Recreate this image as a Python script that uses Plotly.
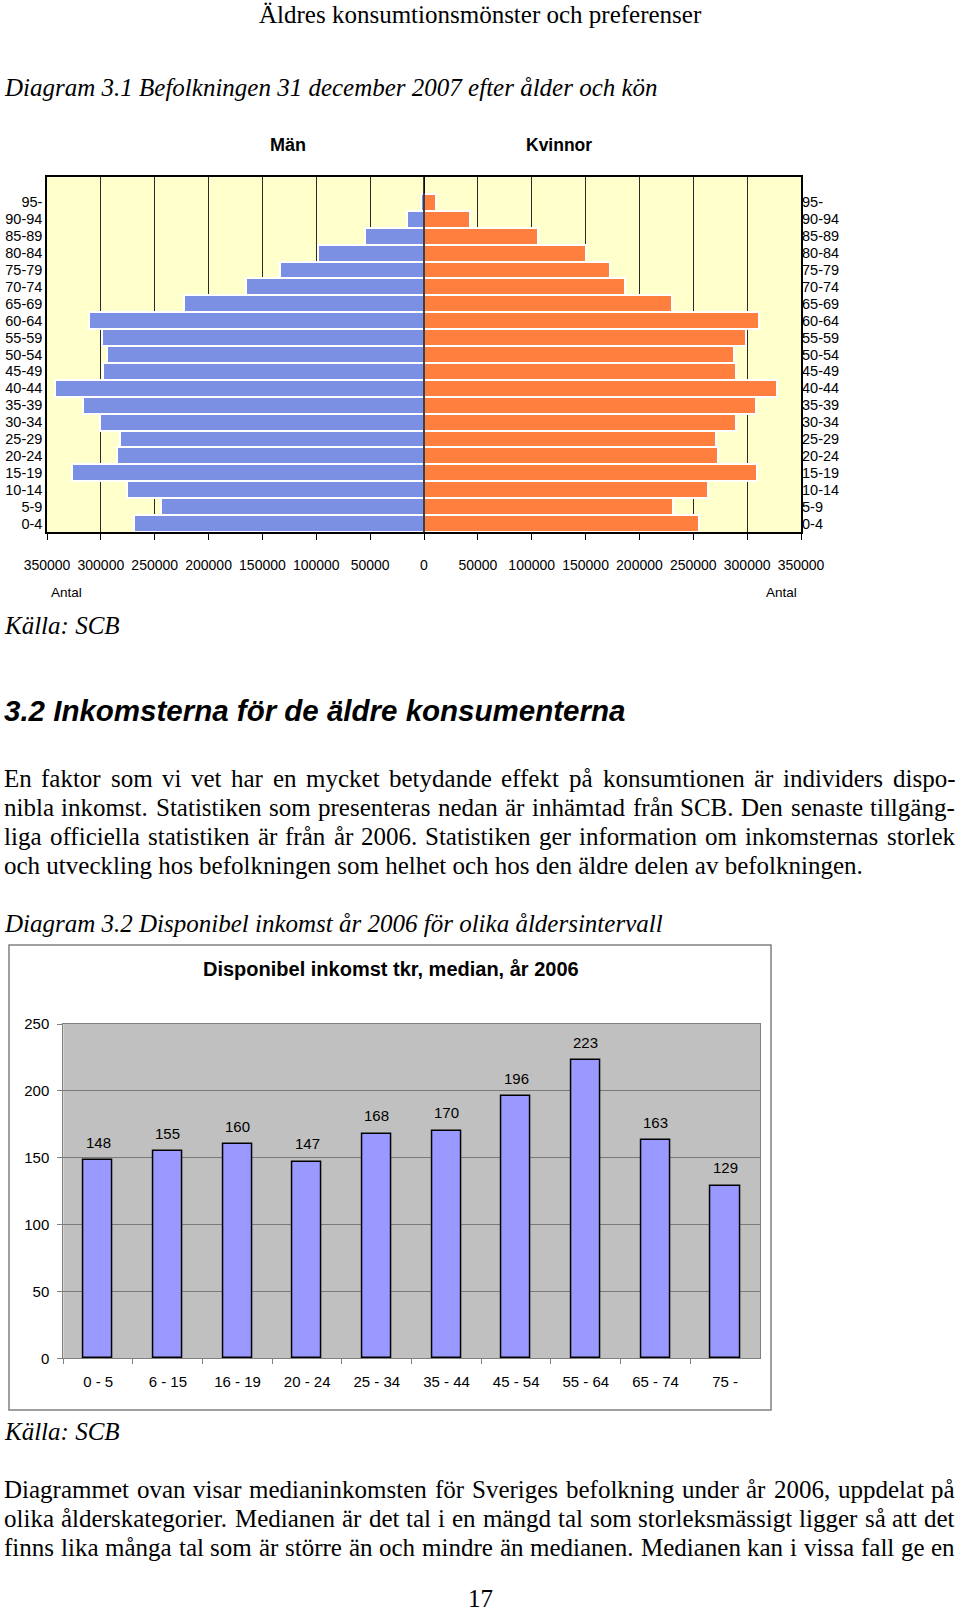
import plotly.graph_objects as go

W, H = 960, 1613

# ---------------- data ----------------
age_groups = ["0-4", "5-9", "10-14", "15-19", "20-24", "25-29", "30-34", "35-39",
              "40-44", "45-49", "50-54", "55-59", "60-64", "65-69", "70-74", "75-79",
              "80-84", "85-89", "90-94", "95-"]
men = [269000, 244000, 276000, 327000, 285000, 282000, 301000, 317000,
       343000, 298000, 294000, 299000, 311000, 223000, 165000, 134000,
       98000, 55000, 15500, 2500]
women = [255000, 231000, 264000, 309000, 273000, 271000, 290000, 308000,
         328000, 290000, 288000, 299000, 311000, 230000, 186500, 173000,
         150000, 106000, 43000, 11000]
pyr_tick_vals = [-350000, -300000, -250000, -200000, -150000, -100000, -50000, 0,
                 50000, 100000, 150000, 200000, 250000, 300000, 350000]
pyr_tick_text = ["350000", "300000", "250000", "200000", "150000", "100000", "50000", "0",
                 "50000", "100000", "150000", "200000", "250000", "300000", "350000"]

income_groups = ["0 - 5", "6 - 15", "16 - 19", "20 - 24", "25 - 34",
                 "35 - 44", "45 - 54", "55 - 64", "65 - 74", "75 -"]
income_values = [148, 155, 160, 147, 168, 170, 196, 223, 163, 129]

# ---------------- styles ----------------
BLUE = "#7B8FE3"
ORANGE = "#FF7F3F"
YELLOW = "#FFFFCC"
GRAY_BG = "#C0C0C0"
BAR2 = "#9999FF"
SERIF = "Liberation Serif, Times New Roman, serif"
SANS = "Liberation Sans, Arial, sans-serif"


def px(x):
    return x / W


def py(y):
    return 1 - y / H


fig = go.Figure()

# Pyramid
fig.add_trace(go.Bar(y=age_groups, x=[-v for v in men], orientation="h",
                     marker=dict(color=BLUE, line=dict(color="white", width=2)),
                     xaxis="x", yaxis="y", showlegend=False, hoverinfo="skip"))
fig.add_trace(go.Bar(y=age_groups, x=women, orientation="h",
                     marker=dict(color=ORANGE, line=dict(color="white", width=2)),
                     xaxis="x", yaxis="y2", showlegend=False, hoverinfo="skip"))
# Income bars
fig.add_trace(go.Bar(x=income_groups, y=income_values, width=0.42,
                     marker=dict(color=BAR2, line=dict(color="black", width=1.5)),
                     xaxis="x2", yaxis="y3", showlegend=False, hoverinfo="skip"))

PYR_L, PYR_R, PYR_T, PYR_B = 47, 801, 177, 532
C2_L, C2_R, C2_T, C2_B = 63.3, 760, 1024, 1358.3

pyr_font = dict(family=SANS, size=14.5, color="black")

fig.update_layout(
    width=W, height=H, autosize=False,
    margin=dict(l=0, r=0, t=0, b=0, pad=0),
    paper_bgcolor="white", plot_bgcolor="rgba(0,0,0,0)",
    bargap=0, barmode="overlay",
    xaxis=dict(domain=[px(PYR_L), px(PYR_R)], anchor="y", range=[-350000, 350000],
               tickmode="array", tickvals=pyr_tick_vals, ticktext=pyr_tick_text,
               tickangle=0, automargin=False,
               ticks="outside", ticklen=6, tickcolor="black", tickwidth=1,
               showgrid=True, gridcolor="#2b2b2b", gridwidth=1, zeroline=False,
               showline=True, linecolor="black", linewidth=1.5, mirror=True,
               tickfont=dict(family=SANS, size=14, color="black"),
               ticklabelstandoff=13),
    yaxis=dict(domain=[py(PYR_B), py(PYR_T)], anchor="x", type="category",
               categoryorder="array", categoryarray=age_groups, range=[-0.5, 20.5],
               tickmode="array", tickvals=age_groups, ticktext=age_groups,
               automargin=False,
               showgrid=False, zeroline=False, showline=True, linecolor="black",
               linewidth=1.5, mirror=True, ticks="", tickfont=pyr_font),
    yaxis2=dict(overlaying="y", side="right", anchor="x", type="category",
                categoryorder="array", categoryarray=age_groups, range=[-0.5, 20.5],
                tickmode="array", tickvals=age_groups, ticktext=age_groups,
                automargin=False,
                showgrid=False, zeroline=False, showline=False, ticks="",
                tickfont=pyr_font),
    xaxis2=dict(domain=[px(C2_L), px(C2_R)], anchor="y3", type="category",
                automargin=False, tickangle=0,
                showline=True, linecolor="#808080", linewidth=1, mirror=True,
                ticks="outside", tickson="boundaries", ticklen=5, tickcolor="#808080",
                showgrid=False, tickfont=dict(family=SANS, size=15, color="black"),
                ticklabelstandoff=10),
    yaxis3=dict(domain=[py(C2_B), py(C2_T)], anchor="x2", range=[0, 250],
                automargin=False,
                tickmode="linear", tick0=0, dtick=50, showgrid=True,
                gridcolor="#7a7a7a", gridwidth=1, zeroline=False,
                showline=True, linecolor="#808080", linewidth=1, mirror=True,
                ticks="outside", ticklen=5, tickcolor="#808080",
                tickfont=dict(family=SANS, size=15, color="black"),
                ticklabelstandoff=5),
)

shapes = [
    dict(type="rect", xref="paper", yref="paper", x0=px(PYR_L), x1=px(PYR_R),
         y0=py(PYR_B), y1=py(PYR_T), fillcolor=YELLOW, line=dict(width=0), layer="below"),
    dict(type="rect", xref="paper", yref="paper", x0=px(C2_L), x1=px(C2_R),
         y0=py(C2_B), y1=py(C2_T), fillcolor=GRAY_BG, line=dict(width=0), layer="below"),
    dict(type="line", xref="x", yref="paper", x0=0, x1=0, y0=py(PYR_B), y1=py(PYR_T),
         line=dict(color="black", width=1.5), layer="above"),
    dict(type="rect", xref="paper", yref="paper", x0=px(9), x1=px(771),
         y0=py(1410), y1=py(945), line=dict(color="#808080", width=1.5),
         fillcolor="rgba(0,0,0,0)", layer="below"),
]
fig.update_layout(shapes=shapes)

annotations = []


def text(t, x, y, size, family, xanchor="left", yanchor="middle", weight="normal",
         style="normal", color="black"):
    annotations.append(dict(text=t, x=px(x), y=py(y), xref="paper", yref="paper",
                            xanchor=xanchor, yanchor=yanchor, showarrow=False,
                            borderpad=0, borderwidth=0,
                            font=dict(family=family, size=size, color=color,
                                      weight=weight, style=style)))


# Times-Roman widths (per 1000 em)
TW = {" ": 250, ",": 250, ".": 250, "-": 333, ":": 278, ";": 278, "(": 333, ")": 333,
      "A": 722, "B": 667, "C": 667, "D": 722, "E": 611, "F": 556, "G": 722, "H": 722,
      "I": 333, "J": 389, "K": 722, "L": 611, "M": 889, "N": 722, "O": 722, "P": 556,
      "Q": 722, "R": 667, "S": 556, "T": 611, "U": 722, "V": 722, "W": 944, "X": 722,
      "Y": 722, "Z": 611, "a": 444, "b": 500, "c": 444, "d": 500, "e": 444, "f": 333,
      "g": 500, "h": 500, "i": 278, "j": 278, "k": 500, "l": 278, "m": 778, "n": 500,
      "o": 500, "p": 500, "q": 500, "r": 333, "s": 389, "t": 278, "u": 500, "v": 500,
      "w": 722, "x": 500, "y": 500, "z": 444, "å": 444, "ä": 444, "ö": 500,
      "Å": 722, "Ä": 722, "Ö": 722}
for d in "0123456789":
    TW[d] = 500


def tw(s, size):
    return sum(TW.get(c, 500) for c in s) / 1000.0 * size


def justified(line, y, size=25, x0=4, x1=955):
    words = line.split(" ")
    widths = [tw(w, size) for w in words]
    gap = (x1 - x0 - sum(widths)) / (len(words) - 1)
    x = x0
    for w, wd in zip(words, widths):
        text(w, x, y, size, SERIF)
        x += wd + gap


# Page header
text("Äldres konsumtionsmönster och preferenser", 480, 15, 25, SERIF, xanchor="center")
text("Diagram 3.1 Befolkningen 31 december 2007 efter ålder och kön", 4, 88, 25, SERIF,
     style="italic")
# Pyramid labels
text("Män", 288, 145, 18, SANS, xanchor="center", weight="bold")
text("Kvinnor", 559, 145, 17.5, SANS, xanchor="center", weight="bold")
text("Antal", 66, 593, 13.5, SANS, xanchor="center")
text("Antal", 781, 593, 13.5, SANS, xanchor="center")
text("Källa: SCB", 4, 625, 25, SERIF, style="italic")

# Section heading + paragraph
text("3.2 Inkomsterna för de äldre konsumenterna", 4, 710, 29.5, SANS, weight="bold",
     style="italic")
para1 = [
    "En faktor som vi vet har en mycket betydande effekt på konsumtionen är individers dispo-",
    "nibla inkomst. Statistiken som presenteras nedan är inhämtad från SCB. Den senaste tillgäng-",
    "liga officiella statistiken är från år 2006. Statistiken ger information om inkomsternas storlek",
]
for i, ln in enumerate(para1):
    justified(ln, 778 + 29 * i)
text("och utveckling hos befolkningen som helhet och hos den äldre delen av befolkningen.",
     4, 778 + 29 * 3, 25, SERIF)

text("Diagram 3.2 Disponibel inkomst år 2006 för olika åldersintervall", 4, 923, 25, SERIF,
     style="italic")

# Chart 2 title + data labels
text("Disponibel inkomst tkr, median, år 2006", 391, 969, 20, SANS, xanchor="center",
     weight="bold")
for cat, val in zip(income_groups, income_values):
    annotations.append(dict(text=str(val), x=cat, y=val, xref="x2", yref="y3",
                            xanchor="center", yanchor="middle", yshift=18,
                            showarrow=False,
                            font=dict(family=SANS, size=15, color="black")))

text("Källa: SCB", 4, 1431, 25, SERIF, style="italic")
para2 = [
    "Diagrammet ovan visar medianinkomsten för Sveriges befolkning under år 2006, uppdelat på",
    "olika ålderskategorier. Medianen är det tal i en mängd tal som storleksmässigt ligger så att det",
    "finns lika många tal som är större än och mindre än medianen. Medianen kan i vissa fall ge en",
]
for i, ln in enumerate(para2):
    justified(ln, 1489 + 29 * i)

text("17", 480, 1598, 25, SERIF, xanchor="center")

fig.update_layout(annotations=annotations)
fig.write_html("out.html")
